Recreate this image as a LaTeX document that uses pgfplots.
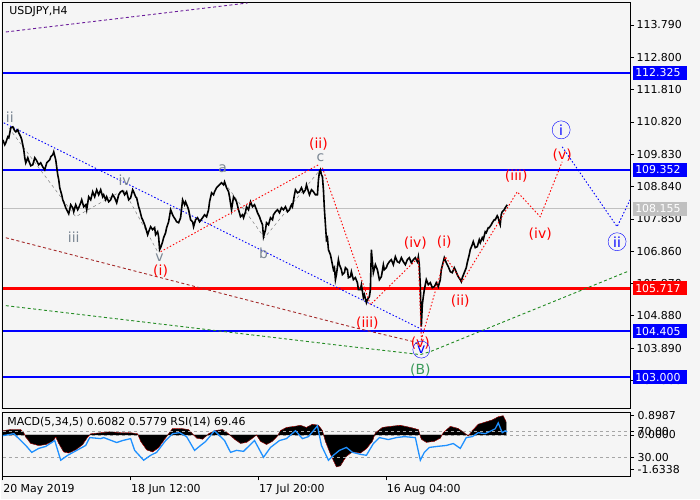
\documentclass[border=0pt]{standalone}
\usepackage{pgfplots}
\pgfplotsset{compat=1.18}
\usepackage{fontspec}
\setmainfont{DejaVu Sans}

\definecolor{bg}{HTML}{F5F5F5}
\definecolor{lvlblue}{HTML}{0000FF}
\definecolor{lvlred}{HTML}{FF0000}
\definecolor{curgray}{HTML}{C0C0C0}
\definecolor{wavegray}{HTML}{7B8794}
\definecolor{rsiblue}{HTML}{1E90FF}
\definecolor{trendred}{HTML}{A52A2A}
\definecolor{trendgreen}{HTML}{228B22}
\definecolor{trendpurple}{HTML}{6A1B9A}
\definecolor{bgreen}{HTML}{3A9A5A}

\newcommand\lbl{\fontsize{14}{16}\selectfont}
\newcommand\sml{\fontsize{11}{12}\selectfont}

\begin{document}
\begin{tikzpicture}
\fill[bg] (0,0) rectangle (700bp,500bp);
\pgfplotsset{panel/.style={
  scale only axis, xmin=2, xmax=630,
  font=\sml, /pgf/number format/assume math mode=true,
  major tick length=4bp, tick align=outside,
  tick style={black, line width=0.6bp},
  axis line style={black, line width=0.8bp}},
  mtdot/.style={line width=0.9bp, dash pattern=on 1.5bp off 2bp},
  mtdash/.style={line width=0.9bp, dash pattern=on 3bp off 2.5bp}}

% ---- price panel
\begin{axis}[panel, at={(2bp,91bp)}, anchor=south west,
  width=628bp, height=407bp,
  axis background/.style={fill=bg},
  ymin=102.036, ymax=114.494,
  xtick=\empty,
  ytick={102.9,103.89,104.88,105.87,106.86,107.85,108.84,109.83,110.82,111.81,112.8,113.79},
  ytick pos=right, yticklabel pos=right,
  yticklabel style={/pgf/number format/fixed, /pgf/number format/fixed zerofill, /pgf/number format/precision=3, xshift=-1bp}]

% levels
\addplot[curgray, line width=0.8bp] coordinates {(2,108.155) (630,108.155)};
\addplot[lvlblue, line width=2.4bp] coordinates {(2,112.325) (630,112.325)};
\addplot[lvlblue, line width=2.4bp] coordinates {(2,109.352) (630,109.352)};
\addplot[lvlred, line width=2.4bp] coordinates {(2,105.717) (630,105.717)};
\addplot[lvlblue, line width=2.4bp] coordinates {(2,104.405) (630,104.405)};
\addplot[lvlblue, line width=2.4bp] coordinates {(2,103.000) (630,103.000)};

% trend lines
\addplot[trendpurple, mtdash] coordinates {(5,113.575) (247,114.463)};
\addplot[blue, mtdot] coordinates {(3,110.790) (422,104.454)};
\addplot[trendred, mtdash] coordinates {(5,107.270) (350,104.546) (413,104.087) (420,103.964)};
\addplot[trendgreen, mtdash] coordinates {(5,105.189) (350,103.934) (420,103.689) (430,103.781) (627,106.229)};

% sub-wave lines
\addplot[gray, dashed, line width=0.5bp] coordinates {(8,110.637) (75,107.913) (123,108.739) (157,106.842)};
\addplot[gray, dashed, line width=0.5bp] coordinates {(224,108.954) (264,107.270) (318,109.290)};

% price
\addplot[black, line width=1.6bp] coordinates {
(2,110.270) (4,110.117) (5,110.178) (7,110.362) (8,110.331) (10,110.637) (12,110.668) (14,110.545)
(15,110.515) (17,110.576) (18,110.484) (20,110.362) (21,110.270) (22,110.117) (23,109.964) (24,109.719)
(25,109.566) (27,109.719) (28,109.627) (30,109.474) (32,109.505) (34,109.719) (36,109.627) (38,109.505)
(40,109.566) (42,109.443) (44,109.351) (46,109.566) (47,109.596) (49,109.658) (50,109.749) (52,109.811)
(53,109.902) (55,109.658) (57,109.198) (58,109.045) (59,108.801) (61,108.586) (62,108.433) (64,108.280)
(65,108.188) (67,108.066) (68,108.005) (70,108.280) (72,108.188) (73,108.066) (75,108.280) (77,108.127)
(78,108.188) (80,108.341) (81,108.433) (83,108.219) (85,108.280) (86,108.127) (88,108.525) (90,108.433)
(92,108.678) (94,108.525) (96,108.739) (98,108.586) (100,108.739) (102,108.525) (103,108.586) (105,108.433)
(106,108.525) (108,108.372) (110,108.433) (112,108.586) (114,108.494) (116,108.341) (118,108.586) (120,108.678)
(122,108.709) (124,108.586) (126,108.678) (128,108.433) (130,108.494) (132,108.739) (133,108.678) (135,108.525)
(136,108.494) (138,108.219) (139,108.127) (141,107.882) (142,107.821) (144,107.668) (145,107.576) (147,107.362)
(148,107.454) (150,107.607) (152,107.515) (154,107.576) (155,107.362) (157,107.454) (158,107.301) (159,106.903)
(160,106.964) (162,107.148) (163,107.270) (165,107.423) (166,107.576) (168,107.760) (170,108.127) (172,107.974)
(173,107.913) (175,107.821) (176,107.760) (178,107.729) (180,107.882) (182,108.433) (184,108.280) (185,108.372)
(187,108.219) (188,108.127) (190,107.821) (192,107.760) (193,107.607) (195,107.821) (197,107.882) (199,107.760)
(202,107.882) (204,107.974) (206,107.913) (208,108.127) (209,108.372) (211,108.647) (213,108.586) (214,108.678)
(216,108.801) (217,108.831) (219,108.892) (221,108.954) (223,108.892) (224,108.984) (226,108.801) (228,108.678)
(229,108.525) (231,108.127) (233,108.525) (235,108.433) (236,108.372) (238,108.127) (240,107.913) (242,107.974)
(243,107.882) (245,108.066) (246,108.219) (248,108.127) (250,108.372) (252,108.219) (254,108.280) (256,108.127)
(257,108.035) (259,107.913) (260,107.821) (262,107.668) (263,107.301) (265,107.515) (266,107.729) (268,107.668)
(270,107.882) (272,107.821) (273,107.974) (275,108.066) (277,108.127) (279,108.035) (281,108.188) (283,108.127)
(285,108.219) (287,108.066) (289,108.127) (291,108.280) (292,108.219) (294,108.586) (295,108.739) (297,108.647)
(299,108.678) (301,108.801) (303,108.647) (305,108.739) (306,108.892) (308,108.678) (309,108.586) (311,108.739)
(313,108.678) (315,108.586) (317,108.586) (318,109.045) (319,109.290) (320,109.351) (321,109.198) (322,109.137)
(323,108.739) (324,108.127) (325,107.668) (326,107.209) (327,107.270) (328,106.903) (330,106.750) (331,106.597)
(332,106.444) (333,106.291) (334,106.352) (335,105.985) (336,106.138) (338,106.597) (339,106.444) (341,106.291)
(342,106.138) (344,106.199) (345,106.352) (347,106.291) (348,106.046) (350,106.076) (351,106.229) (353,105.985)
(355,106.046) (357,105.893) (358,105.678) (360,105.678) (361,105.831) (363,105.434) (364,105.525) (366,105.280)
(367,105.372) (369,105.464) (370,105.678) (371,106.903) (372,106.535) (373,106.199) (375,106.444) (377,106.291)
(379,105.985) (381,106.076) (383,106.444) (384,106.291) (386,106.352) (387,106.444) (389,106.535) (391,106.597)
(393,106.444) (395,106.688) (397,106.535) (399,106.505) (401,106.658) (403,106.535) (405,106.444) (407,106.597)
(409,106.658) (411,106.505) (413,106.597) (415,106.658) (417,106.535) (418,106.688) (419,106.444) (420,105.770)
(421,104.546) (422,105.219) (423,105.464) (424,105.678) (426,105.985) (428,105.831) (430,105.893) (432,105.740)
(434,105.770) (436,105.893) (438,105.770) (440,105.985) (441,106.291) (443,106.535) (444,106.658) (446,106.505)
(448,106.382) (450,106.229) (452,106.199) (454,106.352) (455,106.291) (457,106.138) (458,106.076) (460,105.985)
(461,105.923) (462,106.046) (464,106.199) (466,106.352) (467,106.505) (469,106.750) (470,106.903) (472,107.056)
(473,107.148) (475,106.964) (477,106.995) (479,107.209) (480,107.117) (482,107.270) (483,107.209) (485,107.454)
(486,107.423) (488,107.576) (489,107.576) (491,107.668) (492,107.729) (494,107.821) (495,107.821) (497,107.943)
(498,107.882) (499,107.760) (500,107.668) (501,107.974) (502,108.066) (504,108.127) (505,108.188) (507,108.280)
};

% wave paths
\addplot[red, mtdot] coordinates {(160,106.842) (318,109.505)};
\addplot[red, mtdot] coordinates {(322,109.413) (370,105.219) (418,106.658) (421,104.148) (445,106.688) (462,105.923) (517,108.678) (540,107.913) (562,109.596)};
\addplot[blue, mtdot] coordinates {(562,110.056) (617,107.607) (630,108.433)};

% wave labels
\node[wavegray, font=\lbl] at (axis cs:9,110.974) {ii};
\node[wavegray, font=\lbl] at (axis cs:73,107.301) {iii};
\node[wavegray, font=\lbl] at (axis cs:124,109.045) {iv};
\node[wavegray, font=\lbl] at (axis cs:159,106.658) {v};
\node[wavegray, font=\lbl] at (axis cs:222,109.382) {a};
\node[wavegray, font=\lbl] at (axis cs:263,106.780) {b};
\node[wavegray, font=\lbl] at (axis cs:320,109.719) {c};
\node[red, font=\lbl] at (axis cs:160,106.260) {(i)};
\node[red, font=\lbl] at (axis cs:318,110.147) {(ii)};
\node[red, font=\lbl] at (axis cs:367,104.668) {(iii)};
\node[red, font=\lbl] at (axis cs:415,107.117) {(iv)};
\node[red, font=\lbl] at (axis cs:444,107.148) {(i)};
\node[red, font=\lbl] at (axis cs:460,105.341) {(ii)};
\node[red, font=\lbl] at (axis cs:516,109.168) {(iii)};
\node[red, font=\lbl] at (axis cs:540,107.393) {(iv)};
\node[red, font=\lbl] at (axis cs:562,109.811) {(v)};
\node[red, font=\lbl] at (axis cs:420,104.026) {(v)};
\node[blue, draw=blue, circle, inner sep=0pt, minimum size=17bp, font=\lbl] at (axis cs:421,103.842) {v};
\node[bgreen, font=\lbl] at (axis cs:420,103.199) {(B)};
\node[blue, draw=blue, circle, inner sep=0pt, minimum size=18bp, font=\lbl] at (axis cs:561,110.576) {i};
\node[blue, draw=blue, circle, inner sep=0pt, minimum size=18bp, font=\lbl] at (axis cs:617,107.148) {ii};

\coordinate (L1) at (axis cs:630,112.325);
\coordinate (L2) at (axis cs:630,109.352);
\coordinate (L3) at (axis cs:630,108.155);
\coordinate (L4) at (axis cs:630,105.717);
\coordinate (L5) at (axis cs:630,104.405);
\coordinate (L6) at (axis cs:630,103.000);
\end{axis}

\tikzset{lvlbox/.style={anchor=west, text=white, font=\sml, inner xsep=2bp, inner ysep=0pt, text width=50bp, align=left, minimum height=14bp}}
\node[lvlbox, fill=lvlblue] at ([xshift=3bp]L1) {112.325};
\node[lvlbox, fill=lvlblue] at ([xshift=3bp]L2) {109.352};
\node[lvlbox, fill=curgray] at ([xshift=3bp]L3) {108.155};
\node[lvlbox, fill=lvlred] at ([xshift=3bp]L4) {105.717};
\node[lvlbox, fill=lvlblue] at ([xshift=3bp]L5) {104.405};
\node[lvlbox, fill=lvlblue] at ([xshift=3bp]L6) {103.000};

\node[anchor=west, font=\sml] at (5bp,488bp) {USDJPY,H4};

% ---- MACD panel
\begin{axis}[panel, at={(2bp,23bp)}, anchor=south west,
  width=628bp, height=64bp,
  axis background/.style={fill=bg},
  ymin=-1.95, ymax=1.05,
  xtick={2,130,258,386},
  xticklabels={20 May 2019, 18 Jun 12:00, 17 Jul 20:00, 16 Aug 04:00},
  xtick pos=bottom, xticklabel style={anchor=north west, xshift=-3bp},
  ytick={-1.6338,0,0.8987}, yticklabels={-1.6338,0.0000,0.8987},
  ytick pos=right, yticklabel pos=right]
\addplot[gray!70, dashed, line width=0.5bp] coordinates {(2,0) (630,0)};
\addplot[black, fill=black, line width=0.3bp] coordinates {
(2,0.2) (10,0.25) (20,0.25) (23,0.1) (25,-0.1) (30,-0.4) (38,-0.5) (45,-0.45) (52,-0.3) (55,-0.1)
(58,-0.4) (63,-0.8) (68,-0.85) (75,-0.7) (82,-0.45) (87,-0.1) (90,0.05) (100,0.1) (110,0.15) (120,0.1)
(130,0.1) (137,0.05) (140,-0.3) (146,-0.7) (152,-0.8) (158,-0.6) (164,-0.2) (168,0.05) (172,0.3) (180,0.3)
(188,0.25) (192,0.05) (196,-0.15) (202,-0.2) (208,0.05) (214,0.2) (222,0.25) (228,0.05) (234,-0.2) (240,-0.4)
(246,-0.35) (252,-0.15) (256,0.0) (260,-0.3) (266,-0.45) (272,-0.3) (277,-0.05) (280,0.2) (286,0.35) (294,0.4)
(300,0.45) (306,0.35) (312,0.5) (318,0.45) (322,0.2) (325,-0.3) (330,-0.9) (336,-1.5) (340,-1.45) (346,-1.0)
(352,-0.8) (360,-0.85) (366,-0.65) (372,-0.3) (375,0.1) (382,0.35) (390,0.4) (400,0.45) (410,0.35) (418,0.25)
(421,-0.2) (426,-0.35) (434,-0.3) (440,-0.15) (443,0.1) (450,0.4) (458,0.3) (464,0.1) (468,-0.05) (472,0.2)
(478,0.5) (485,0.6) (492,0.7) (498,0.85) (503,0.9) (506,0.6)
} \closedcycle;
\addplot[red, densely dotted, line width=0.6bp] coordinates {
(2,0.2) (10,0.25) (20,0.25) (23,0.1) (25,-0.1) (30,-0.4) (38,-0.5) (45,-0.45) (52,-0.3) (55,-0.1)
(58,-0.4) (63,-0.8) (68,-0.85) (75,-0.7) (82,-0.45) (87,-0.1) (90,0.05) (100,0.1) (110,0.15) (120,0.1)
(130,0.1) (137,0.05) (140,-0.3) (146,-0.7) (152,-0.8) (158,-0.6) (164,-0.2) (168,0.05) (172,0.3) (180,0.3)
(188,0.25) (192,0.05) (196,-0.15) (202,-0.2) (208,0.05) (214,0.2) (222,0.25) (228,0.05) (234,-0.2) (240,-0.4)
(246,-0.35) (252,-0.15) (256,0.0) (260,-0.3) (266,-0.45) (272,-0.3) (277,-0.05) (280,0.2) (286,0.35) (294,0.4)
(300,0.45) (306,0.35) (312,0.5) (318,0.45) (322,0.2) (325,-0.3) (330,-0.9) (336,-1.5) (340,-1.45) (346,-1.0)
(352,-0.8) (360,-0.85) (366,-0.65) (372,-0.3) (375,0.1) (382,0.35) (390,0.4) (400,0.45) (410,0.35) (418,0.25)
(421,-0.2) (426,-0.35) (434,-0.3) (440,-0.15) (443,0.1) (450,0.4) (458,0.3) (464,0.1) (468,-0.05) (472,0.2)
(478,0.5) (485,0.6) (492,0.7) (498,0.85) (503,0.9) (506,0.6)
};
\end{axis}

% ---- RSI overlay
\begin{axis}[panel, at={(2bp,23bp)}, anchor=south west,
  width=628bp, height=64bp,
  ymin=0, ymax=100, axis x line=none, axis y line*=right,
  ytick={30,70}, yticklabels={30.00,70.00}]
\addplot[gray!70, dashed, line width=0.5bp] coordinates {(2,70) (630,70)};
\addplot[gray!70, dashed, line width=0.5bp] coordinates {(2,30) (630,30)};
\addplot[rsiblue, line width=1.3bp] coordinates {
(2,63.8) (13,66.9) (25,48.5) (31,37.7) (38,43.9) (45,47.0) (54,56.2) (60,25.4) (67,33.1) (76,40.8)
(85,48.5) (89,60.8) (100,59.2) (103,60.8) (116,53.1) (122,56.2) (130,59.2) (134,40.8) (143,25.4) (150,33.1)
(156,37.7) (165,56.2) (172,66.9) (179,68.5) (186,62.3) (194,40.8) (200,48.5) (205,54.6) (214,71.5) (220,62.3)
(224,56.2) (230,37.7) (236,40.8) (243,39.3) (254,56.2) (263,30.0) (270,45.4) (279,56.2) (286,59.2) (295,71.5)
(302,59.2) (308,62.3) (317,79.2) (321,48.5) (328,25.4) (333,33.1) (339,40.8) (346,45.4) (352,37.7) (360,34.6)
(366,33.1) (373,51.5) (379,60.8) (388,57.7) (396,60.8) (404,62.3) (415,60.8) (420,25.4) (424,37.7) (429,45.4)
(437,47.0) (446,48.5) (453,51.5) (460,43.9) (466,60.8) (472,62.3) (478,68.5) (485,66.9) (491,71.5) (495,74.6)
(498,83.8) (502,68.5) (505,71.5) (507,69.5)
};
\end{axis}

\node[anchor=west, font=\sml] at (3bp,77bp) {MACD(5,34,5) 0.6082 0.5779 RSI(14) 69.46};
\end{tikzpicture}
\end{document}
